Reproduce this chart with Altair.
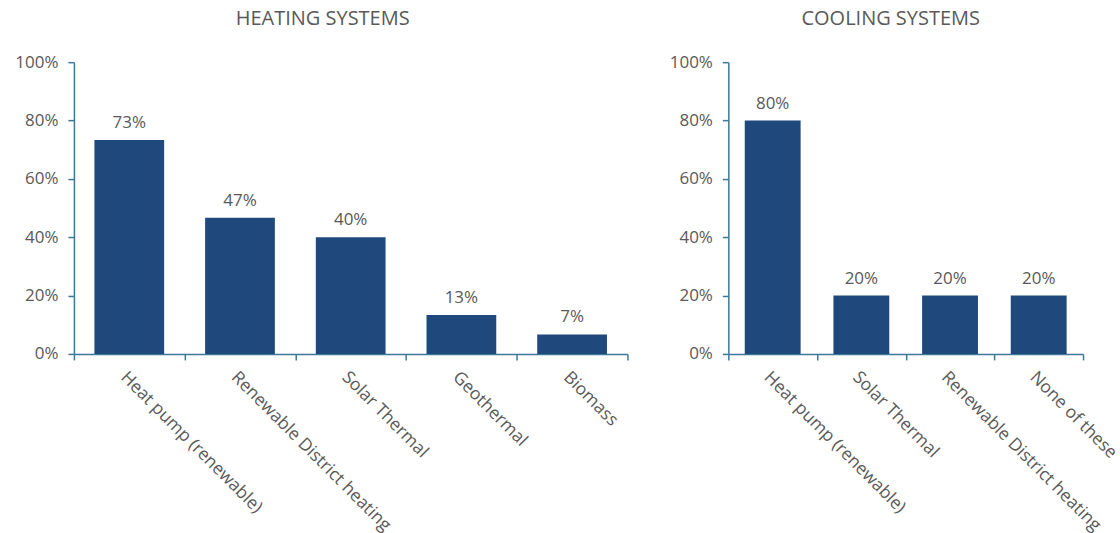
import altair as alt
import pandas as pd

heat_cats = ["Heat pump (renewable)", "Renewable District heating", "Solar Thermal", "Geothermal", "Biomass"]
heat_vals = [0.733, 0.467, 0.40, 0.133, 0.067]

cool_cats = ["Heat pump (renewable)", "Solar Thermal", "Renewable District heating", "None of these"]
cool_vals = [0.80, 0.20, 0.20, 0.20]

y_ticks = [0, 0.2, 0.4, 0.6, 0.8, 1.0]

BAR = "#1f497d"
AXIS = "#3d7898"
TEXT = "#595959"
FONT = "Open Sans"


def panel(cats, vals, title, width, dx):
    df = pd.DataFrame({"cat": cats, "val": vals})
    base = alt.Chart(df).encode(
        x=alt.X(
            "cat:N",
            sort=cats,
            scale=alt.Scale(paddingInner=0, paddingOuter=0),
            axis=alt.Axis(
                title=None,
                labelAngle=45,
                labelAlign="left",
                labelBaseline="top",
                labelPadding=8,
                labelFontSize=17.5,
                tickBand="extent",
                labelLimit=400,
            ),
        ),
        y=alt.Y(
            "val:Q",
            scale=alt.Scale(domain=[0, 1], nice=False),
            axis=alt.Axis(
                title=None,
                format=".0%",
                values=y_ticks,
                grid=False,
                minExtent=69,
                labelPadding=10,
            ),
        ),
    )
    bars = base.mark_bar(color=BAR, width=alt.RelativeBandSize(0.63))
    labels = base.mark_text(
        dy=-12, baseline="alphabetic", fontSize=17, color=TEXT, font=FONT
    ).encode(text=alt.Text("val:Q", format=".0%"))
    return alt.layer(bars, labels).properties(
        width=width,
        height=292,
        title=alt.TitleParams(
            title,
            dx=dx,
            frame="group",
            anchor="middle",
            fontSize=20,
            fontWeight="normal",
            color=TEXT,
            font=FONT,
            offset=24,
        ),
    )


left = panel(heat_cats, heat_vals, "HEATING SYSTEMS", 554, -28)
right = panel(cool_cats, cool_vals, "COOLING SYSTEMS", 355, -15)

chart = (
    alt.hconcat(left, right, spacing=101, bounds="flush")
    .configure(padding={"left": 5, "top": 9, "right": 0, "bottom": 0})
    .configure_view(stroke=None)
    .configure_axis(
        domainColor=AXIS,
        tickColor=AXIS,
        domainWidth=1.5,
        tickWidth=1.5,
        tickSize=6,
        labelColor=TEXT,
        labelFont=FONT,
        labelFontSize=17,
    )
)

chart.save("out.html", embed_options={"renderer": "svg", "actions": False})
